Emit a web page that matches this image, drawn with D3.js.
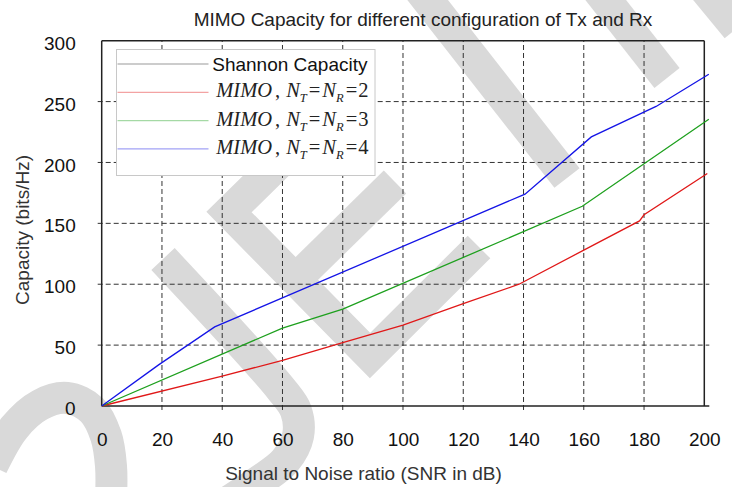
<!DOCTYPE html>
<html>
<head>
<meta charset="utf-8">
<script src="https://cdn.jsdelivr.net/npm/d3@7"></script>
<style>
  body { margin: 0; background: #fff; }
  svg { display: block; font-family: "Liberation Sans", Arial, sans-serif; }
</style>
</head>
<body>
<div class="chart"></div>
<script>
// Data
const xTicks = [0, 20, 40, 60, 80, 100, 120, 140, 160, 180, 200];
const yTicks = [0, 50, 100, 150, 200, 250, 300];

// N_T = N_R = 2
const snr2 = [0, 40, 60, 80, 100, 120, 138.5, 160, 178.5, 180, 201];
const cap2 = [0, 24.5, 37.5, 52, 66.5, 84, 100, 128, 152, 157, 191];
// N_T = N_R = 3
const snr3 = [0, 60, 80, 159.5, 201.5];
const cap3 = [0, 64, 79.5, 164, 235.5];
// N_T = N_R = 4
const snr4 = [0, 19, 37.5, 140.5, 162.5, 184, 201.5];
const cap4 = [0, 34, 65, 174, 221, 246, 272.5];

const antennas = [2, 3, 4];
const seriesColors = ['#e01818', '#1ea01e', '#1414e6'];

const titleText = 'MIMO Capacity for different configuration of Tx and Rx';
const xLabel = 'Signal to Noise ratio (SNR in dB)';
const yLabel = 'Capacity (bits/Hz)';
const shannonLabel = 'Shannon Capacity';

// background watermark strokes (decoration only, pixel space)
const watermark = [
  { pts: [[-8, 466], [14, 428], [40, 405], [67, 398], [92, 410], [106, 436], [111, 466], [111, 500]], curve: true },
  { pts: [[163, 259], [281, 389], [296, 411], [298, 436], [285, 461], [258, 482], [228, 502]], curve: true },
  { pts: [[338, 105], [229, 212], [370, 355.5], [479, 247]], curve: false },
  { pts: [[296, 279], [395, 182]], curve: false },
  { pts: [[412, -20], [567, 178]], curve: false },
  { pts: [[590, -20], [667, 78]], curve: false },
  { pts: [[685, -35], [737, 28]], curve: false }
];

const series = antennas.map((n, i) => {
  const xs = [snr2, snr3, snr4][i];
  const ys = [cap2, cap3, cap4][i];
  return { n: n, color: seriesColors[i], values: xs.map((d, j) => ({ snr: d, cap: ys[j] })) };
});

// canvas
const W = 732, H = 487;
const m = { top: 40.7, right: 27.7, bottom: 81, left: 101.7 };
const cw = W - m.left - m.right;
const ch = H - m.top - m.bottom;

const svg = d3.select('.chart').append('svg').attr('width', W).attr('height', H);

// watermark first, everything sits on top of it
const wmLine = d3.line();
const wmCurve = d3.line().curve(d3.curveCatmullRom.alpha(0.5));
svg.append('g').attr('class', 'watermark')
  .selectAll('path').data(watermark).enter()
  .append('path')
  .attr('d', d => (d.curve ? wmCurve : wmLine)(d.pts))
  .style('fill', 'none').style('stroke', '#d9d9d9')
  .style('stroke-width', 32).style('stroke-linejoin', 'miter').style('stroke-linecap', 'butt');

const g = svg.append('g').attr('transform', `translate(${m.left},${m.top})`);

const xScale = d3.scaleLinear().domain([0, 200]).range([0, cw]);
const yScale = d3.scaleLinear().domain([0, 300]).range([ch, 0]);

// dashed grid
const grid = g.append('g').attr('class', 'grid')
  .style('stroke', '#333').style('stroke-width', 1).style('stroke-dasharray', '5,3');
grid.selectAll('.vgrid').data(xTicks.slice(1, -1)).enter()
  .append('line').attr('class', 'vgrid')
  .attr('x1', d => xScale(d)).attr('x2', d => xScale(d))
  .attr('y1', ch + 4).attr('y2', 0);
grid.selectAll('.hgrid').data(yTicks.slice(1, -1)).enter()
  .append('line').attr('class', 'hgrid')
  .attr('x1', -4).attr('x2', cw + 5)
  .attr('y1', d => yScale(d)).attr('y2', d => yScale(d));

// frame
const frame = g.append('g').attr('class', 'frame').style('stroke', '#222').style('stroke-width', 1.5);
frame.append('line').attr('x1', 0).attr('x2', 0).attr('y1', 0).attr('y2', ch);
frame.append('line').attr('x1', 0).attr('x2', cw + 5).attr('y1', ch).attr('y2', ch);
frame.append('line').attr('x1', 0).attr('x2', cw).attr('y1', 0).attr('y2', 0);
frame.append('line').attr('x1', cw).attr('x2', cw).attr('y1', 0).attr('y2', ch);

// axes (labels only)
const xAxis = d3.axisBottom(xScale).tickValues(xTicks).tickSize(0).tickPadding(27);
g.append('g').attr('class', 'x axis').attr('transform', `translate(0,${ch})`).call(xAxis)
  .call(a => a.select('.domain').remove())
  .selectAll('text').style('font-size', '19px').style('font-family', '"Liberation Sans", Arial, sans-serif').style('fill', '#111');

const yAxis = d3.axisLeft(yScale).tickValues(yTicks).tickSize(0).tickPadding(26);
g.append('g').attr('class', 'y axis').call(yAxis)
  .call(a => a.select('.domain').remove())
  .selectAll('text').attr('dy', '0.45em').style('font-size', '19px').style('font-family', '"Liberation Sans", Arial, sans-serif').style('fill', '#111');

// lines
const lineGen = d3.line().x(d => xScale(d.snr)).y(d => yScale(d.cap));
g.append('g').attr('class', 'lines')
  .selectAll('path').data(series).enter()
  .append('path')
  .attr('d', d => lineGen(d.values))
  .style('fill', 'none').style('stroke', d => d.color).style('stroke-width', 1.3);

// legend
const lg = svg.append('g').attr('class', 'legend').attr('transform', 'translate(116.5,49.5)');
lg.append('rect').attr('width', 258.5).attr('height', 126)
  .style('fill', '#fff').style('stroke', '#c8c8c8').style('stroke-width', 1);

const rows = [{ color: '#000', label: shannonLabel }].concat(series.map(s => ({ color: s.color, n: s.n })));
const row = lg.selectAll('.row').data(rows).enter().append('g')
  .attr('transform', (d, i) => `translate(0,${14.5 + i * 28.3})`);
row.append('line').attr('x1', 1).attr('x2', 92)
  .style('stroke', d => d.color).style('stroke-opacity', 0.4).style('stroke-width', 1.2);

row.filter(d => d.label).append('text')
  .attr('x', 251).attr('y', 6.5).attr('text-anchor', 'end')
  .style('font-size', '19px').style('fill', '#111').text(d => d.label);

row.filter(d => d.n).append('text')
  .attr('x', 252).attr('y', 5).attr('text-anchor', 'end')
  .style('font-family', '"Liberation Serif", "Times New Roman", serif')
  .style('font-size', '20.5px').style('fill', '#222')
  .each(function (d) {
    const t = d3.select(this);
    t.append('tspan').style('font-style', 'italic').text('MIMO');
    t.append('tspan').attr('dx', 3).text(',');
    t.append('tspan').attr('dx', 6).style('font-style', 'italic').text('N');
    t.append('tspan').attr('dy', 5).style('font-style', 'italic').style('font-size', '12.5px').text('T');
    t.append('tspan').attr('dy', -5).attr('dx', 2).text('=');
    t.append('tspan').attr('dx', 2).style('font-style', 'italic').text('N');
    t.append('tspan').attr('dy', 5).style('font-style', 'italic').style('font-size', '12.5px').text('R');
    t.append('tspan').attr('dy', -5).attr('dx', 2).text('=');
    t.append('tspan').attr('dx', 1).text(d.n);
  });

// title and axis titles
svg.append('text').attr('x', 423).attr('y', 26).attr('text-anchor', 'middle')
  .style('font-size', '19px').style('fill', '#222').text(titleText);
svg.append('text').attr('x', 363.5).attr('y', 479.5).attr('text-anchor', 'middle')
  .style('font-size', '19px').style('fill', '#333').text(xLabel);
svg.append('text').attr('transform', 'translate(28.5,230) rotate(-90)').attr('text-anchor', 'middle')
  .style('font-size', '19px').style('fill', '#333').text(yLabel);
</script>
</body>
</html>
